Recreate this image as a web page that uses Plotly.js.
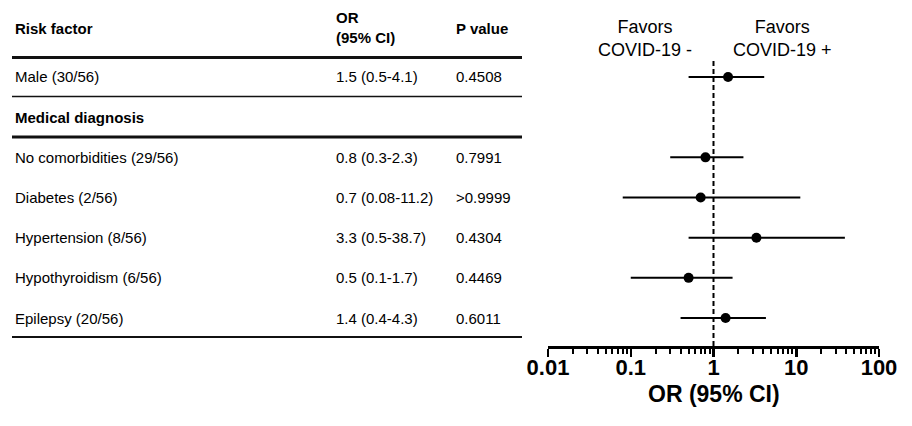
<!DOCTYPE html>
<html>
<head>
<meta charset="utf-8">
<script src="https://cdn.plot.ly/plotly-3.0.1.min.js"></script>
<style>
  html, body { margin: 0; padding: 0; background: #ffffff; }
  #chart { width: 912px; height: 426px; }
</style>
</head>
<body>
<div id="chart"></div>
<script>
// ---- Data ----
const rowOrder = ['Male (30/56)', 'Medical diagnosis', 'No comorbidities (29/56)', 'Diabetes (2/56)',
                  'Hypertension (8/56)', 'Hypothyroidism (6/56)', 'Epilepsy (20/56)'];
const factors = ['Male (30/56)', 'No comorbidities (29/56)', 'Diabetes (2/56)',
                 'Hypertension (8/56)', 'Hypothyroidism (6/56)', 'Epilepsy (20/56)'];
const oddsRatio = [1.5, 0.8, 0.7, 3.3, 0.5, 1.4];
const ciLow = [0.5, 0.3, 0.08, 0.5, 0.1, 0.4];
const ciHigh = [4.1, 2.3, 11.2, 38.7, 1.7, 4.3];
const orLabels = ['1.5 (0.5-4.1)', '0.8 (0.3-2.3)', '0.7 (0.08-11.2)', '3.3 (0.5-38.7)', '0.5 (0.1-1.7)', '1.4 (0.4-4.3)'];
const pLabels = ['0.4508', '0.7991', '>0.9999', '0.4304', '0.4469', '0.6011'];
const sectionLabel = 'Medical diagnosis';
const tickValues = [0.01, 0.1, 1, 10, 100];
const tickLabels = ['0.01', '0.1', '1', '10', '100'];

// ---- Layout helpers (pixel -> paper, margins are 0) ----
const W = 912, H = 426;
const px = v => v / W;
const py = v => 1 - v / H;
const FONT = 'Liberation Sans, Arial, Helvetica, sans-serif';

const errPlus = oddsRatio.map((v, i) => ciHigh[i] - v);
const errMinus = oddsRatio.map((v, i) => v - ciLow[i]);

const trace = {
  type: 'scatter',
  mode: 'markers',
  x: oddsRatio,
  y: factors,
  marker: { color: '#000', size: 10 },
  error_x: { type: 'data', symmetric: false, array: errPlus, arrayminus: errMinus,
             color: '#000', thickness: 2, width: 0 },
  showlegend: false,
  hoverinfo: 'x+y'
};

const annotations = [];
const colX = { label: 13, or: 334, p: 454 };
// header
annotations.push({ xref: 'paper', yref: 'paper', x: px(colX.label), y: py(28), xanchor: 'left', yanchor: 'middle',
  text: '<b>Risk factor</b>', showarrow: false, font: { family: FONT, size: 15, color: '#000' } });
annotations.push({ xref: 'paper', yref: 'paper', x: px(colX.or), y: py(27), xanchor: 'left', yanchor: 'middle', align: 'left',
  text: '<b>OR<br>(95% CI)</b>', showarrow: false, font: { family: FONT, size: 15, color: '#000' } });
annotations.push({ xref: 'paper', yref: 'paper', x: px(colX.p), y: py(28), xanchor: 'left', yanchor: 'middle',
  text: '<b>P value</b>', showarrow: false, font: { family: FONT, size: 15, color: '#000' } });
// section row
annotations.push({ xref: 'paper', yref: 'y', x: px(colX.label), y: sectionLabel, xanchor: 'left', yanchor: 'middle',
  text: '<b>' + sectionLabel + '</b>', showarrow: false, font: { family: FONT, size: 15, color: '#000' } });
// data rows
factors.forEach((f, i) => {
  annotations.push({ xref: 'paper', yref: 'y', x: px(colX.label), y: f, xanchor: 'left', yanchor: 'middle',
    text: f, showarrow: false, font: { family: FONT, size: 15, color: '#000' } });
  annotations.push({ xref: 'paper', yref: 'y', x: px(colX.or), y: f, xanchor: 'left', yanchor: 'middle',
    text: orLabels[i], showarrow: false, font: { family: FONT, size: 15, color: '#000' } });
  annotations.push({ xref: 'paper', yref: 'y', x: px(colX.p), y: f, xanchor: 'left', yanchor: 'middle',
    text: pLabels[i].replace('>', '&gt;'), showarrow: false, font: { family: FONT, size: 15, color: '#000' } });
});
// favors labels
annotations.push({ xref: 'paper', yref: 'paper', x: px(645), y: py(39), xanchor: 'center', yanchor: 'middle', align: 'center',
  text: 'Favors<br>COVID-19 -', showarrow: false, font: { family: FONT, size: 18, color: '#000' } });
annotations.push({ xref: 'paper', yref: 'paper', x: px(782), y: py(39), xanchor: 'center', yanchor: 'middle', align: 'center',
  text: 'Favors<br>COVID-19 +', showarrow: false, font: { family: FONT, size: 18, color: '#000' } });
// axis title
annotations.push({ xref: 'paper', yref: 'paper', x: px(713.5), y: py(394), xanchor: 'center', yanchor: 'middle',
  text: '<b>OR (95% CI)</b>', showarrow: false, font: { family: FONT, size: 23, color: '#000' } });

const lineShape = (y, w) => ({ type: 'line', xref: 'paper', yref: 'paper', x0: px(12), x1: px(522),
  y0: py(y), y1: py(y), line: { color: '#111', width: w } });

const shapes = [
  lineShape(57.5, 3),
  lineShape(96.5, 1.5),
  lineShape(137, 3),
  lineShape(337, 2),
  { type: 'line', xref: 'x', yref: 'y domain', x0: 1, x1: 1, y0: 0, y1: 1,
    line: { color: '#000', width: 2, dash: '5px,3px' } }
];

const layout = {
  width: W, height: H,
  margin: { l: 0, r: 0, t: 0, b: 0 },
  paper_bgcolor: '#fff', plot_bgcolor: '#fff',
  font: { family: FONT, color: '#000' },
  xaxis: {
    type: 'log', range: [-2, 2],
    domain: [548 / W, 879 / W],
    tickmode: 'array', tickvals: tickValues, ticktext: tickLabels,
    ticks: 'outside', ticklen: 8, tickwidth: 2.5, tickcolor: '#000',
    ticklabelstandoff: -8,
    minor: { dtick: 'D1', ticks: 'outside', ticklen: 5, tickwidth: 2, tickcolor: '#000', showgrid: false },
    showline: true, linecolor: '#000', linewidth: 3,
    showgrid: false, zeroline: false, automargin: false,
    tickfont: { family: FONT, size: 22, color: '#000', weight: 'bold' },
    fixedrange: true
  },
  yaxis: {
    type: 'category', categoryorder: 'array', categoryarray: rowOrder,
    range: [6.696, -0.398],
    domain: [1 - 346 / H, 1 - 61 / H],
    showline: false, showgrid: false, zeroline: false, showticklabels: false, ticks: '',
    automargin: false, fixedrange: true
  },
  annotations: annotations,
  shapes: shapes,
  showlegend: false
};

Plotly.newPlot('chart', [trace], layout, { displayModeBar: false, staticPlot: true });
</script>
</body>
</html>
